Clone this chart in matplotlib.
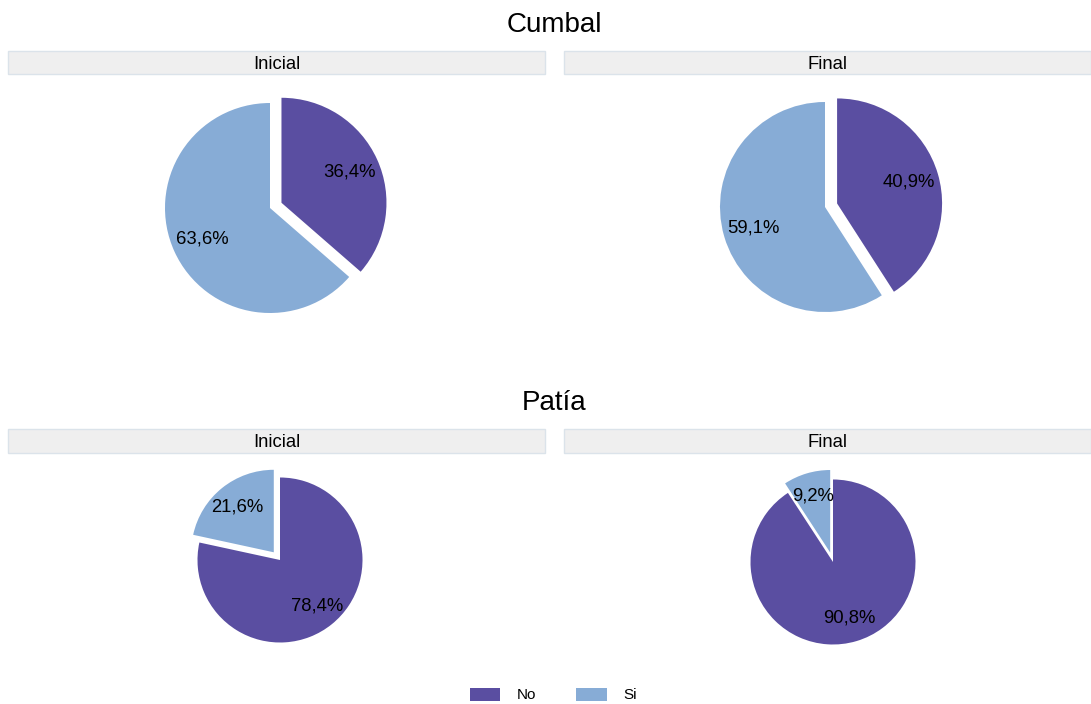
import matplotlib.pyplot as plt
from matplotlib.patches import Rectangle, Patch

# ------------------------------------------------------------
# DATA
# ------------------------------------------------------------
sites = ["Cumbal", "Patía"]
stages = ["Inicial", "Final"]
categories = ["No", "Si"]

cumbal_no = [36.4, 40.9]
cumbal_si = [63.6, 59.1]
patia_no = [78.4, 90.8]
patia_si = [21.6, 9.2]

values = {
    "Cumbal": (cumbal_no, cumbal_si),
    "Patía": (patia_no, patia_si),
}

colors = ["#5a4ea1", "#87acd6"]

# ------------------------------------------------------------
# LAYOUT (pixel units, measured from the top left)
# ------------------------------------------------------------
W, H = 1091, 704
col_x = [(8, 545), (564, 1091)]
strip_y = [(51, 74), (429, 453)]
title_x = 554.5
title_base = [31.5, 409.5]
strip_base = [69, 447]
pie_center = {(0, 0): (270, 208), (0, 1): (825, 207),
              (1, 0): (280, 560), (1, 1): (833, 562)}
pie_radius = [105, 82.5]
pull = 0.12   # fraction of radius

plt.rcParams["font.family"] = ["Liberation Sans", "DejaVu Sans"]

fig = plt.figure(figsize=(W / 100, H / 100), dpi=100)
ax = fig.add_axes([0, 0, 1, 1])


def fy(y):
    return H - y


def pct_label(p):
    return f"{p:.1f}%".replace(".", ",")


for r, site in enumerate(sites):
    ax.text(title_x, fy(title_base[r]), site, ha="center", va="baseline",
            fontsize=20, color="black")
    no_vals, si_vals = values[site]
    for c, stage in enumerate(stages):
        x0, x1 = col_x[c]
        y0, y1 = strip_y[r]
        ax.add_patch(Rectangle((x0, fy(y1)), x1 - x0, y1 - y0,
                               facecolor="#efefef", edgecolor="#dbe3ea",
                               linewidth=1))
        ax.text((x0 + x1) / 2, fy(strip_base[r]), stage, ha="center",
                va="baseline", fontsize=13.3, color="black")

        vals = [no_vals[c], si_vals[c]]
        rad = pie_radius[r]
        # explode is in data units in matplotlib, so scale by the radius
        explode = [pull * rad if v == min(vals) else 0 for v in vals]
        cx, cy = pie_center[(r, c)]
        ax.pie(
            vals, colors=colors, explode=explode, startangle=90,
            counterclock=False, center=(cx, fy(cy)), radius=rad,
            autopct=pct_label, pctdistance=0.71, frame=True,
            wedgeprops=dict(linewidth=0),
            textprops=dict(fontsize=13.3, color="black"),
        )

# pie() touches the limits, so set them once all is drawn
ax.set_xlim(0, W)
ax.set_ylim(0, H)
ax.set_aspect("equal")
ax.axis("off")

handles = [Patch(facecolor=colors[i], label=categories[i]) for i in range(2)]
fig.legend(handles=handles, loc="center", bbox_to_anchor=(553.5 / W, 1 - 695 / H),
           ncol=2, frameon=False, fontsize=11, handlelength=2.0,
           handleheight=0.92, handletextpad=1.1, columnspacing=2.6)

fig.savefig("out.png", dpi=100)
